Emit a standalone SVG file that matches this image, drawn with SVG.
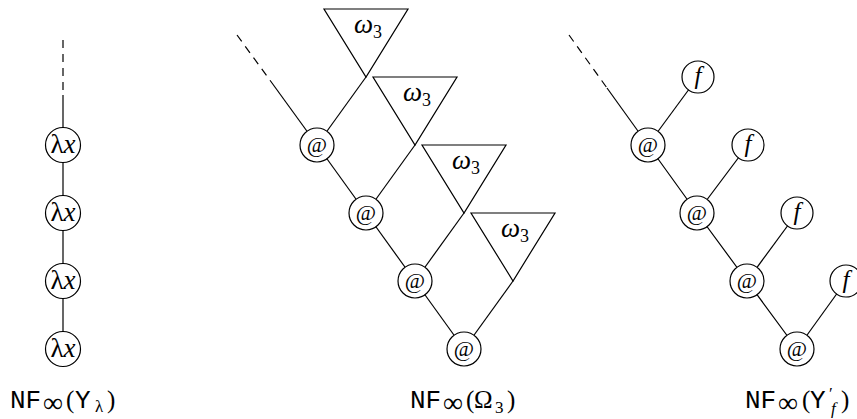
<svg xmlns="http://www.w3.org/2000/svg" width="857" height="419" viewBox="0 0 857 419">
<style>
.e{stroke:#000;stroke-width:1.2;fill:none}
.d{stroke-dasharray:8 6}
.n{fill:#fff;stroke:#000;stroke-width:1.2}
.m{font-family:"Liberation Serif","DejaVu Serif",serif;fill:#000}
.i{font-style:italic}
.tt{font-family:"Liberation Mono","DejaVu Sans Mono",monospace;fill:#000}
.c{text-anchor:middle}
.lam{font-size:27px}
.at{font-size:22px}
.fx{font-size:25px}
.om{font-size:27px}
.sub{font-size:18px}
</style>
<rect width="857" height="419" fill="#fff"/>
<g id="connectors">
  <line class="e d" x1="63" y1="40" x2="63" y2="95"/>
  <line class="e" x1="63" y1="95" x2="63" y2="349"/>
  <line class="e d" x1="237" y1="35" x2="272" y2="83"/>
  <line class="e" x1="272" y1="83" x2="317" y2="145"/>
  <polyline class="e" points="317,145 366,213 415,281 464,349"/>
  <line class="e" x1="317" y1="145" x2="366" y2="77"/>
  <line class="e" x1="366" y1="213" x2="415" y2="145"/>
  <line class="e" x1="415" y1="281" x2="464" y2="213"/>
  <line class="e" x1="464" y1="349" x2="513" y2="281"/>
  <line class="e d" x1="569" y1="35" x2="607" y2="88"/>
  <line class="e" x1="607" y1="88" x2="648" y2="145"/>
  <polyline class="e" points="648,145 697,213 747,281 797,349"/>
  <line class="e" x1="648" y1="145" x2="698" y2="77"/>
  <line class="e" x1="697" y1="213" x2="748" y2="145"/>
  <line class="e" x1="747" y1="281" x2="797" y2="213"/>
  <line class="e" x1="797" y1="349" x2="846" y2="281"/>
</g>
<g id="lam1"><circle class="n" cx="63" cy="145" r="17.5"/><text class="m c lam" x="63" y="153">λ<tspan class="i">x</tspan></text></g>
<g id="lam2"><circle class="n" cx="63" cy="213" r="17.5"/><text class="m c lam" x="63" y="221">λ<tspan class="i">x</tspan></text></g>
<g id="lam3"><circle class="n" cx="63" cy="281" r="17.5"/><text class="m c lam" x="63" y="289">λ<tspan class="i">x</tspan></text></g>
<g id="lam4"><circle class="n" cx="63" cy="349" r="17.5"/><text class="m c lam" x="63" y="357">λ<tspan class="i">x</tspan></text></g>

<g id="tri1"><polygon class="n" points="324,9 408,9 366,77"/><text class="m om" x="354" y="33"><tspan class="i">ω</tspan><tspan class="sub" dy="5">3</tspan></text></g>
<g id="tri2"><polygon class="n" points="373,77 457,77 415,145"/><text class="m om" x="403" y="101"><tspan class="i">ω</tspan><tspan class="sub" dy="5">3</tspan></text></g>
<g id="tri3"><polygon class="n" points="422,145 506,145 464,213"/><text class="m om" x="452" y="169"><tspan class="i">ω</tspan><tspan class="sub" dy="5">3</tspan></text></g>
<g id="tri4"><polygon class="n" points="471,213 555,213 513,281"/><text class="m om" x="501" y="237"><tspan class="i">ω</tspan><tspan class="sub" dy="5">3</tspan></text></g>

<g id="app1"><circle class="n" cx="317" cy="145" r="17"/><text class="m c at" x="317" y="152">@</text></g>
<g id="app2"><circle class="n" cx="366" cy="213" r="17"/><text class="m c at" x="366" y="220">@</text></g>
<g id="app3"><circle class="n" cx="415" cy="281" r="17"/><text class="m c at" x="415" y="288">@</text></g>
<g id="app4"><circle class="n" cx="464" cy="349" r="17"/><text class="m c at" x="464" y="356">@</text></g>

<g id="rapp1"><circle class="n" cx="648" cy="145" r="17"/><text class="m c at" x="648" y="152">@</text></g>
<g id="rapp2"><circle class="n" cx="697" cy="213" r="17"/><text class="m c at" x="697" y="220">@</text></g>
<g id="rapp3"><circle class="n" cx="747" cy="281" r="17"/><text class="m c at" x="747" y="288">@</text></g>
<g id="rapp4"><circle class="n" cx="797" cy="349" r="17"/><text class="m c at" x="797" y="356">@</text></g>

<g id="f1"><circle class="n" cx="698" cy="77" r="16"/><text class="m i c fx" x="698" y="84">f</text></g>
<g id="f2"><circle class="n" cx="748" cy="145" r="16"/><text class="m i c fx" x="748" y="152">f</text></g>
<g id="f3"><circle class="n" cx="797" cy="213" r="16"/><text class="m i c fx" x="797" y="220">f</text></g>
<g id="f4"><circle class="n" cx="846" cy="281" r="16"/><text class="m i c fx" x="846" y="288">f</text></g>

<g id="label1"><text y="408"><tspan class="tt" x="10" font-size="26">NF</tspan><tspan class="m" x="43" y="412" font-size="28">∞</tspan><tspan class="m" x="66" y="408" font-size="25">(</tspan><tspan class="tt" x="75" font-size="26">Y</tspan><tspan class="m" x="95" y="412" font-size="17">λ</tspan><tspan class="m" x="107" y="408" font-size="25">)</tspan></text></g>
<g id="label2"><text y="408"><tspan class="tt" x="410" font-size="26">NF</tspan><tspan class="m" x="443" y="412" font-size="28">∞</tspan><tspan class="m" x="466" y="408" font-size="25">(</tspan><tspan class="m" x="474" font-size="25">Ω</tspan><tspan class="m" x="495" y="413" font-size="17">3</tspan><tspan class="m" x="507" y="408" font-size="25">)</tspan></text></g>
<g id="label3"><text y="408"><tspan class="tt" x="745" font-size="26">NF</tspan><tspan class="m" x="778" y="412" font-size="28">∞</tspan><tspan class="m" x="802" y="408" font-size="25">(</tspan><tspan class="tt" x="810" font-size="26">Y</tspan><tspan class="m" x="829" y="399" font-size="17">′</tspan><tspan class="m i" x="831" y="414" font-size="17">f</tspan><tspan class="m" x="841" y="408" font-size="25">)</tspan></text></g>
</svg>
